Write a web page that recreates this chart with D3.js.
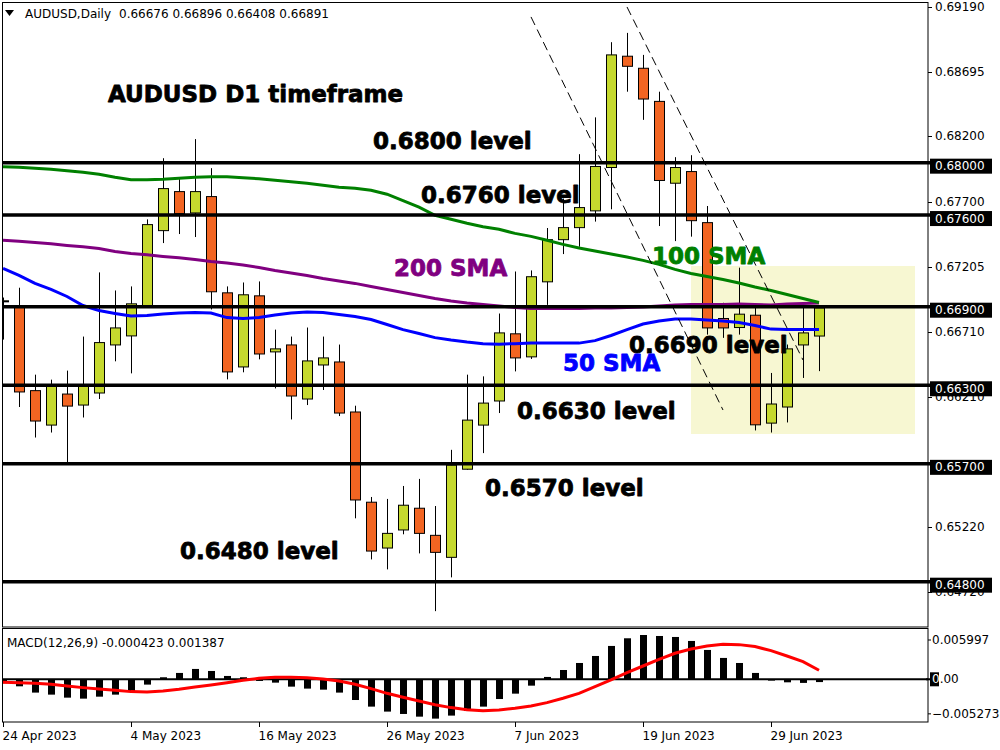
<!DOCTYPE html>
<html><head><meta charset="utf-8">
<script src="https://cdn.jsdelivr.net/npm/d3@7"></script>
<style>
body{margin:0;background:#fff}
svg{display:block}
text{font-family:"DejaVu Sans",Verdana,sans-serif}
</style>
</head><body>
<svg id="c" width="1000" height="750"></svg>
<script>
// ---------------- DATA ----------------
const dates = ["2023-04-24","2023-04-25","2023-04-26","2023-04-27","2023-04-28",
"2023-05-01","2023-05-02","2023-05-03","2023-05-04","2023-05-05",
"2023-05-08","2023-05-09","2023-05-10","2023-05-11","2023-05-12",
"2023-05-15","2023-05-16","2023-05-17","2023-05-18","2023-05-19",
"2023-05-22","2023-05-23","2023-05-24","2023-05-25","2023-05-26",
"2023-05-29","2023-05-30","2023-05-31","2023-06-01","2023-06-02",
"2023-06-05","2023-06-06","2023-06-07","2023-06-08","2023-06-09",
"2023-06-12","2023-06-13","2023-06-14","2023-06-15","2023-06-16",
"2023-06-19","2023-06-20","2023-06-21","2023-06-22","2023-06-23",
"2023-06-26","2023-06-27","2023-06-28","2023-06-29","2023-06-30",
"2023-07-03","2023-07-04"];
const open  = [0.66942,0.66904,0.66259,0.65996,0.66233,0.66149,0.66241,0.66608,0.66677,0.66904,
0.67481,0.67779,0.67616,0.67741,0.67006,0.66440,0.66983,0.66555,0.66608,0.66195,
0.66455,0.66478,0.66096,0.65407,0.65057,0.65195,0.65361,0.65154,0.64986,0.65659,
0.65996,0.66180,0.66693,0.66517,0.67090,0.67412,0.67504,0.67632,0.67963,0.68813,
0.68721,0.68468,0.67843,0.67932,0.67542,0.66810,0.66741,0.66835,0.66011,0.66134,
0.66608,0.66676];
const high  = [0.66970,0.67045,0.66381,0.66343,0.66412,0.66672,0.67162,0.67024,0.67055,0.67567,
0.68034,0.67874,0.68180,0.67958,0.67055,0.67085,0.67093,0.66725,0.66672,0.66741,
0.66672,0.66611,0.66144,0.65447,0.65432,0.65531,0.65585,0.65378,0.65807,0.66381,
0.66368,0.66848,0.67169,0.67177,0.67501,0.67726,0.68065,0.68346,0.68920,0.68991,
0.68823,0.68542,0.68042,0.68057,0.67669,0.66930,0.67198,0.66891,0.66394,0.66611,
0.66891,0.66896];
const low   = [0.66649,0.66134,0.65901,0.65939,0.65713,0.66054,0.66195,0.66483,0.66391,0.66895,
0.67386,0.67455,0.67432,0.66879,0.66345,0.66399,0.66498,0.66276,0.66039,0.66149,
0.66264,0.66065,0.65284,0.64970,0.64894,0.65162,0.65016,0.64575,0.64833,0.65655,
0.65782,0.66088,0.66406,0.66501,0.66914,0.67302,0.67358,0.67550,0.67644,0.68542,
0.68327,0.67516,0.67401,0.67435,0.66687,0.66662,0.66687,0.65955,0.65939,0.66016,
0.66356,0.66408];
const close = [0.66945,0.66249,0.66027,0.66291,0.66141,0.66291,0.66626,0.66738,0.66922,0.67527,
0.67802,0.67611,0.67779,0.67014,0.66402,0.66991,0.66539,0.66578,0.66218,0.66486,
0.66509,0.66088,0.65424,0.65034,0.65169,0.65384,0.65169,0.65024,0.65690,0.66034,
0.66164,0.66700,0.66509,0.67129,0.67412,0.67504,0.67657,0.67971,0.68823,0.68736,
0.68486,0.67864,0.67963,0.67557,0.66738,0.66738,0.66843,0.65998,0.66157,0.66578,
0.66700,0.66891];
const sma50  = [0.67192,0.67139,0.67078,0.67032,0.66978,0.66909,0.66871,0.66848,0.66829,0.66833,
0.66844,0.66852,0.66856,0.66852,0.66817,0.66810,0.66817,0.66836,0.66852,0.66859,
0.66856,0.66840,0.66825,0.66802,0.66764,0.66725,0.66695,0.66664,0.66645,0.66630,
0.66618,0.66614,0.66618,0.66622,0.66622,0.66622,0.66622,0.66641,0.66680,0.66725,
0.66768,0.66791,0.66806,0.66806,0.66798,0.66791,0.66779,0.66756,0.66729,0.66725,
0.66725,0.66725];
const sma100 = [0.67969,0.67965,0.67958,0.67950,0.67939,0.67927,0.67912,0.67889,0.67870,0.67870,
0.67874,0.67881,0.67889,0.67893,0.67893,0.67885,0.67877,0.67866,0.67854,0.67843,
0.67828,0.67812,0.67805,0.67789,0.67759,0.67710,0.67660,0.67598,0.67568,0.67537,
0.67510,0.67491,0.67460,0.67437,0.67407,0.67376,0.67349,0.67326,0.67303,0.67280,
0.67254,0.67223,0.67185,0.67154,0.67131,0.67108,0.67081,0.67051,0.67024,0.66993,
0.66963,0.66932];
const sma200 = [0.67407,0.67399,0.67391,0.67380,0.67368,0.67357,0.67345,0.67322,0.67307,0.67296,
0.67284,0.67273,0.67261,0.67246,0.67234,0.67219,0.67200,0.67177,0.67158,0.67139,
0.67116,0.67097,0.67078,0.67054,0.67032,0.67009,0.66986,0.66963,0.66944,0.66928,
0.66917,0.66905,0.66894,0.66886,0.66886,0.66886,0.66886,0.66890,0.66890,0.66894,
0.66898,0.66905,0.66913,0.66917,0.66917,0.66917,0.66921,0.66917,0.66913,0.66921,
0.66924,0.66928];
const macdHist = [-0.00060,-0.00107,-0.00203,-0.00234,-0.00280,-0.00295,-0.00265,-0.00234,-0.00178,-0.00081,
0.00031,0.00097,0.00158,0.00127,0.00051,0.00031,-0.00025,-0.00051,-0.00112,-0.00142,
-0.00158,-0.00203,-0.00316,-0.00417,-0.00493,-0.00529,-0.00570,-0.00600,-0.00554,-0.00484,
-0.00417,-0.00301,-0.00219,-0.00097,0.00036,0.00142,0.00249,0.00356,0.00509,0.00626,
0.00676,0.00661,0.00646,0.00585,0.00448,0.00326,0.00249,0.00097,-0.00020,-0.00046,
-0.00055,-0.000423];
const macdSignal = [-0.00046,-0.00051,-0.00061,-0.00076,-0.00102,-0.00127,-0.00148,-0.00168,-0.00188,-0.00193,
-0.00178,-0.00153,-0.00117,-0.00086,-0.00051,-0.00015,0.00015,0.00031,0.00031,0.00025,
0.00005,-0.00025,-0.00076,-0.00142,-0.00214,-0.00275,-0.00331,-0.00387,-0.00432,-0.00463,
-0.00478,-0.00468,-0.00443,-0.00407,-0.00356,-0.00290,-0.00214,-0.00112,-0.00010,0.00102,
0.00203,0.00305,0.00397,0.00463,0.00509,0.00534,0.00529,0.00499,0.00437,0.00356,
0.00270,0.001387];
const levels = [0.68000,0.67600,0.66900,0.66300,0.65700,0.64800];
const priceTicks = [0.69190,0.68695,0.68200,0.67700,0.67205,0.66710,0.66210,0.65220,0.64720];
const macdTicks = [0.005997,0,-0.005273];
const dateTicks = ["2023-04-24","2023-05-04","2023-05-16","2023-05-26","2023-06-07","2023-06-19","2023-06-29"];
// trend channel (bar index, price)
const trendA = [[33,0.69113],[45,0.66111]];
const trendB = [[39,0.69189],[50,0.66493]];
// highlighted zone: bar index range and price range
const zoneIdx = [43,57];
const zonePrice = [0.67211,0.65928];
const headerSymbol = "AUDUSD,Daily";
const headerOHLC = "0.66676 0.66896 0.66408 0.66891";
const macdLabel = "MACD(12,26,9) -0.000423 0.001387";

// ---------------- LAYOUT ----------------
const notes = [
 {t:"AUDUSD D1 timeframe", c:"#000000", x:108, cy:94},
 {t:"0.6800 level", c:"#000000", x:373, cy:141},
 {t:"0.6760 level", c:"#000000", x:421, cy:195},
 {t:"200 SMA", c:"#800080", x:394, cy:268},
 {t:"100 SMA", c:"#008000", x:652, cy:256},
 {t:"0.6690 level", c:"#000000", x:629, cy:345},
 {t:"50 SMA", c:"#0000ff", x:563, cy:363},
 {t:"0.6630 level", c:"#000000", x:517, cy:411},
 {t:"0.6570 level", c:"#000000", x:485, cy:488},
 {t:"0.6480 level", c:"#000000", x:180, cy:551}
];

const svg = d3.select("#c");
const x = d3.scaleLinear().domain([0, dates.length-1]).range([3, 819]);
const y = d3.scaleLinear().domain([0.64454, 0.69227]).range([627, 2]);
const ym = d3.scaleLinear().domain([-0.006516, 0.007676]).range([722, 629]);
const idx = d => dates.indexOf(d);

const defs = svg.append("defs");
defs.append("clipPath").attr("id","cm").append("rect").attr("x",3).attr("y",3).attr("width",925).attr("height",624);
defs.append("clipPath").attr("id","cd").append("rect").attr("x",3).attr("y",629).attr("width",925).attr("height",93);

const main = svg.append("g").attr("clip-path","url(#cm)");

// zone
main.append("rect")
  .attr("x", x(zoneIdx[0])).attr("width", x(zoneIdx[1]) - x(zoneIdx[0]))
  .attr("y", y(zonePrice[0])).attr("height", y(zonePrice[1]) - y(zonePrice[0]))
  .attr("fill", "#f7f7d2");

// candles
const bars = d3.range(dates.length);
const cg = main.append("g");
cg.selectAll("line.w").data(bars).join("line")
  .attr("x1", i => Math.round(x(i))+0.5).attr("x2", i => Math.round(x(i))+0.5)
  .attr("y1", i => y(high[i])).attr("y2", i => y(low[i]))
  .attr("stroke","#000").attr("stroke-width",1);
cg.selectAll("rect.b").data(bars).join("rect")
  .attr("x", i => Math.round(x(i))-4.5).attr("width", 10)
  .attr("y", i => y(Math.max(open[i],close[i])))
  .attr("height", i => Math.max(1, Math.abs(y(open[i])-y(close[i]))))
  .attr("fill", i => close[i] >= open[i] ? "#c5d92e" : "#f26522")
  .attr("stroke","#000").attr("stroke-width",1);

// SMAs
const line = d3.line().x((d,i)=>x(i)).y(d=>y(d));
[[sma200,"#800080"],[sma100,"#008000"],[sma50,"#0000ff"]].forEach(([s,c])=>{
  main.append("path").attr("d", line(s)).attr("fill","none").attr("stroke",c).attr("stroke-width",3);
});

// trend channel
const tl = d3.line().x(d=>x(d[0])).y(d=>y(d[1]));
[trendA,trendB].forEach(t=>{
  main.append("path").attr("d", tl(t)).attr("fill","none").attr("stroke","#000")
    .attr("stroke-width",1).attr("stroke-dasharray","9,5");
});

// level lines
svg.append("g").selectAll("line").data(levels).join("line")
  .attr("x1",3).attr("x2",931).attr("y1",d=>y(d)).attr("y2",d=>y(d))
  .attr("stroke","#000").attr("stroke-width",3.5);

// frames
svg.append("rect").attr("x",2.5).attr("y",2.5).attr("width",925.5).attr("height",624.5)
  .attr("fill","none").attr("stroke","#000");
svg.append("rect").attr("x",2.5).attr("y",628.5).attr("width",925.5).attr("height",93.5)
  .attr("fill","none").attr("stroke","#000");

// right price axis
const ax = svg.append("g");
ax.selectAll("line").data(priceTicks).join("line")
  .attr("x1",928).attr("x2",932).attr("y1",d=>Math.round(y(d))+0.5).attr("y2",d=>Math.round(y(d))+0.5)
  .attr("stroke","#000");
ax.selectAll("text").data(priceTicks).join("text")
  .attr("x",935).attr("y",d=>y(d)).attr("dominant-baseline","central")
  .attr("font-size",12).attr("fill","#000").text(d=>d3.format(".5f")(d));

// level boxes
const lb = svg.append("g");
lb.selectAll("rect").data(levels).join("rect")
  .attr("x",930).attr("y",d=>y(d)-4).attr("width",62).attr("height",15).attr("fill","#000");
lb.selectAll("text").data(levels).join("text")
  .attr("x",935).attr("y",d=>y(d)+3.5).attr("dominant-baseline","central")
  .attr("font-size",12).attr("fill","#fff").text(d=>d3.format(".5f")(d));

// header
svg.append("path").attr("d","M5,10L14,10L9.5,16Z").attr("fill","#000");
svg.append("text").attr("x",25).attr("y",13.5).attr("dominant-baseline","central")
  .attr("font-size",12).text(headerSymbol);
svg.append("text").attr("x",119).attr("y",13.5).attr("dominant-baseline","central")
  .attr("font-size",12).text(headerOHLC);

// annotations
svg.append("g").selectAll("text").data(notes).join("text")
  .attr("x",d=>d.x).attr("y",d=>d.cy+8.4)
  .attr("font-size",23).attr("font-weight","bold").attr("fill",d=>d.c)
  .attr("stroke",d=>d.c).attr("stroke-width",0.8).attr("stroke-linejoin","round")
  .text(d=>d.t);

// MACD panel
const md = svg.append("g").attr("clip-path","url(#cd)");
md.selectAll("rect").data(bars).join("rect")
  .attr("x", i => Math.round(x(i))-3).attr("width",7)
  .attr("y", i => Math.min(ym(0), ym(macdHist[i])))
  .attr("height", i => Math.abs(ym(macdHist[i]) - ym(0)))
  .attr("fill","#000");
md.append("line").attr("x1",3).attr("x2",928).attr("y1",ym(0)).attr("y2",ym(0))
  .attr("stroke","#000").attr("stroke-width",2);
md.append("path").attr("d", d3.line().x((d,i)=>x(i)).y(d=>ym(d))(macdSignal))
  .attr("fill","none").attr("stroke","#ff0000").attr("stroke-width",3);
svg.append("line").attr("x1",926).attr("x2",931).attr("y1",ym(0)).attr("y2",ym(0))
  .attr("stroke","#000").attr("stroke-width",2);
svg.append("text").attr("x",7).attr("y",643).attr("dominant-baseline","central")
  .attr("font-size",12).text(macdLabel);

// MACD axis
const mx = svg.append("g");
mx.selectAll("line").data(macdTicks).join("line")
  .attr("x1",928).attr("x2",931).attr("y1",d=>ym(d)).attr("y2",d=>ym(d)).attr("stroke","#000");
mx.append("rect").attr("x",930).attr("y",ym(0)-7).attr("width",9).attr("height",14).attr("fill","#000");
mx.selectAll("text").data(macdTicks).join("text")
  .attr("x",932).attr("y",d=>ym(d)).attr("dominant-baseline","central").attr("font-size",12)
  .each(function(d){
    const t = d3.select(this);
    if (d === 0) {
      t.append("tspan").attr("fill","#fff").text("0");
      t.append("tspan").attr("fill","#000").text(".00");
    } else t.attr("fill","#000").text(d3.format(".6f")(d));
  });

// date axis
const fmt = d3.timeFormat("%-d %b %Y"), parse = d3.timeParse("%Y-%m-%d");
const dx = svg.append("g");
dx.selectAll("line").data(dateTicks).join("line")
  .attr("x1",d=>Math.round(x(idx(d)))+0.5).attr("x2",d=>Math.round(x(idx(d)))+0.5)
  .attr("y1",722).attr("y2",727).attr("stroke","#000");
dx.selectAll("text").data(dateTicks).join("text")
  .attr("x",d=>x(idx(d))-0.5).attr("y",736).attr("dominant-baseline","central")
  .attr("font-size",12).text(d=>fmt(parse(d)));
</script>
</body></html>
